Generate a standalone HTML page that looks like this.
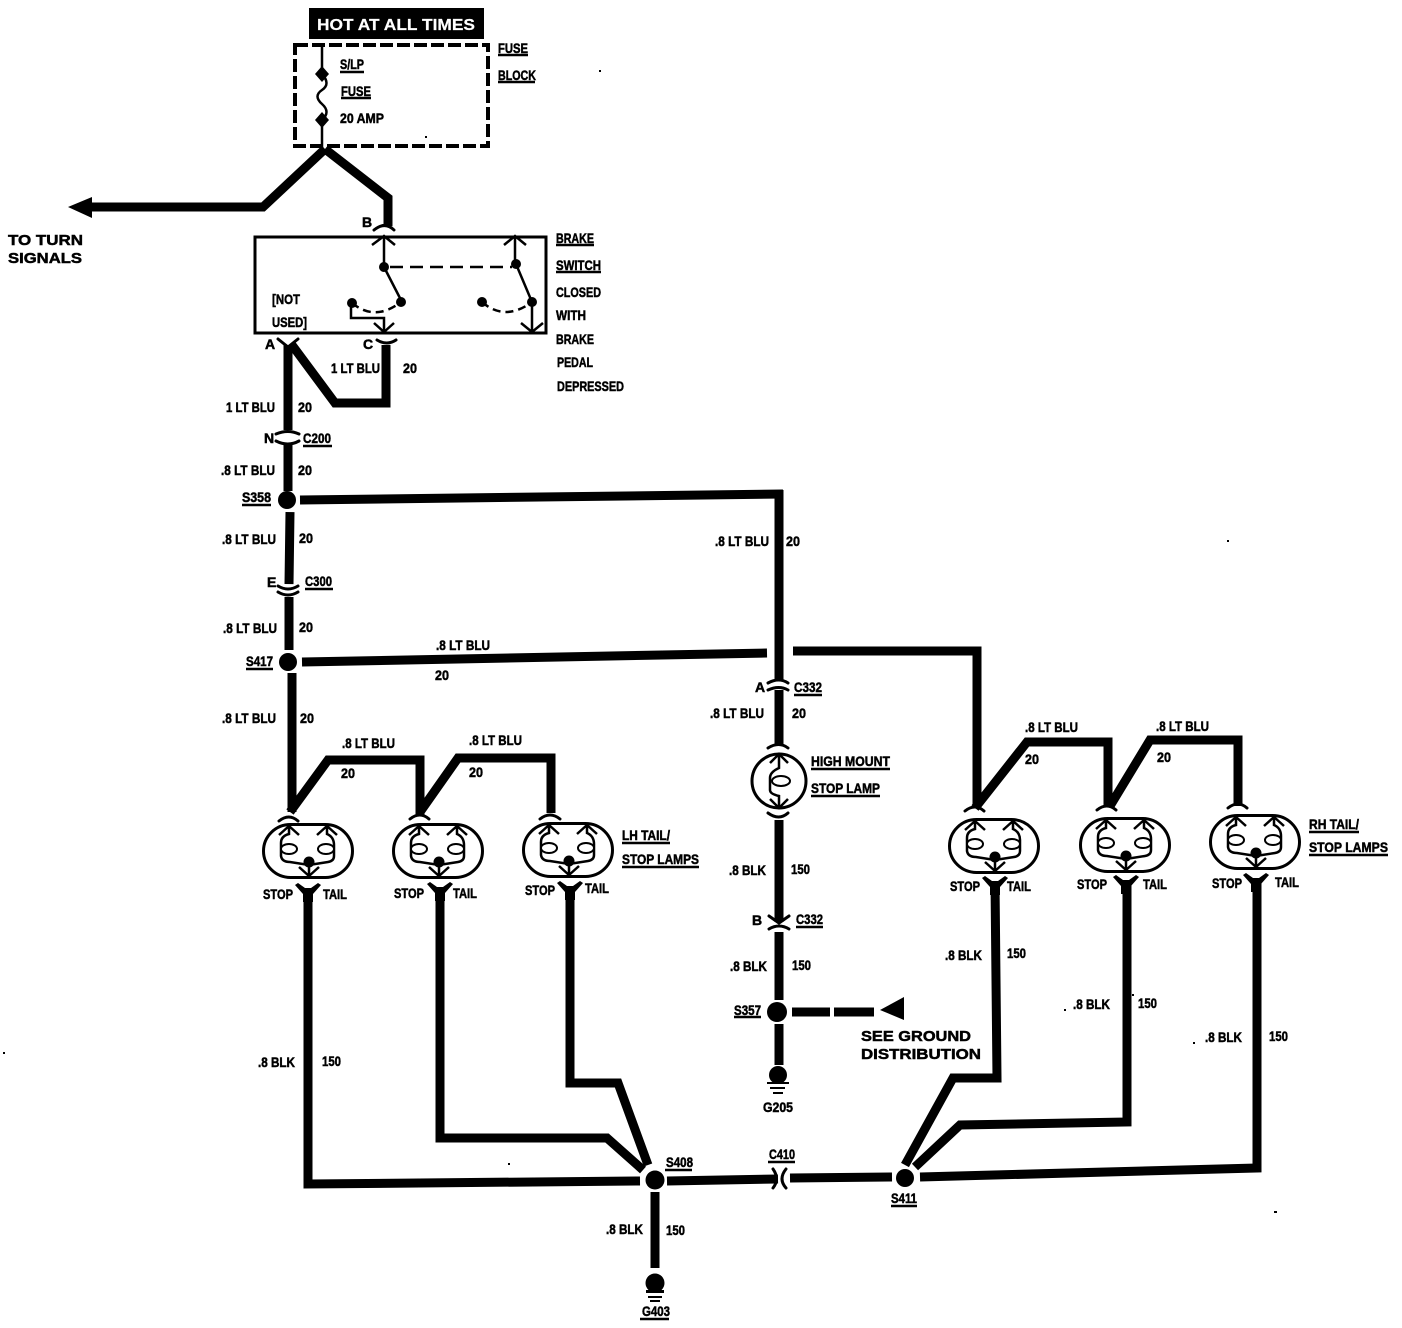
<!DOCTYPE html>
<html><head><meta charset="utf-8"><title>Stop lamp wiring diagram</title>
<style>
html,body{margin:0;padding:0;background:#fff}
svg{display:block}
text{font-family:"Liberation Sans",sans-serif;font-weight:bold;font-size:14px;fill:#000;stroke:#000;stroke-width:.5;transform:translateY(-1px)}
.w{fill:none;stroke:#000;stroke-width:9;stroke-linejoin:miter}
.t{fill:none;stroke:#000;stroke-width:2.5}
.a{fill:none;stroke:#000;stroke-width:3;stroke-linecap:round}
</style></head><body>
<svg width="1402" height="1328" viewBox="0 0 1402 1328" xmlns="http://www.w3.org/2000/svg">
<defs>
<g id="lamp">
<rect x="1.5" y="1.5" width="89" height="53" rx="27" fill="#fff" stroke="#000" stroke-width="3"/>
<path class="t" d="M27 3V11Q19 13 19 20V33Q20 39 28 39L47 42L66 39Q72 38 72 33V22Q72 14 65 11V3M17 12L27 3L37 12M55 12L65 3L75 12M47 42V53M37 44L47 53L57 44" stroke-width="2"/>
<ellipse cx="27" cy="26" rx="8" ry="5" fill="#fff" stroke="#000" stroke-width="2"/>
<ellipse cx="64" cy="26" rx="8" ry="5" fill="#fff" stroke="#000" stroke-width="2"/>
<circle cx="47" cy="39" r="5.5"/>
</g>
<path id="yc" d="M-13 -5L-10 -7L-3 -2H3L10 -7L13 -5L5 4V12H-5V4Z"/>
</defs>

<!-- header -->
<rect x="309" y="8" width="175" height="31"/>
<text x="317" y="31" style="fill:#fff;stroke:#fff;stroke-width:.2;font-size:16px" textLength="158" lengthAdjust="spacingAndGlyphs">HOT AT ALL TIMES</text>
<rect x="295" y="45" width="193" height="101" fill="none" stroke="#000" stroke-width="4" stroke-dasharray="13 4"/>
<path class="t" d="M322 44V72M322 120V148M322 74Q331 84 322 90T322 104T322 120"/>
<path d="M322 66L329 74L322 82L315 74ZM322 112L329 120L322 128L315 120Z"/>

<!-- top wires -->
<path class="w" d="M325 149L263 207H90"/>
<path class="w" stroke-width="10" d="M325 149L388 198V226"/>
<path d="M68 207L92 197V218Z"/>
<path class="a" d="M374 230Q385 221 394 230M278 339L288 347L298 339M377 340Q387 346 396 340"/>

<!-- switch -->
<rect x="255" y="237" width="291" height="96" fill="none" stroke="#000" stroke-width="3"/>
<path class="t" d="M384 237V267M372 245L384 236L395 245M515 237V264M504 245L515 236L526 245M384 267L402 302M516 264L532 302V332M521 323L532 332L543 323M351 305V318H384V332M374 323L384 332L394 323"/>
<path class="t" stroke-dasharray="13 7" d="M390 267H512"/>
<path class="t" stroke-dasharray="8 5" d="M352 303Q375 322 401 302M482 302Q505 322 532 302"/>
<circle cx="384" cy="267" r="5"/><circle cx="516" cy="264" r="5"/><circle cx="401" cy="302" r="5"/><circle cx="352" cy="303" r="5"/><circle cx="482" cy="302" r="5"/><circle cx="532" cy="302" r="5"/>

<!-- left main wires -->
<path class="w" d="M288 345V430M292 345L335 403H386V345"/>
<path class="a" d="M276 434Q288 429 299 434M276 441Q288 447 299 441"/>
<path class="w" d="M288 444V491M290 512L289 584M289 597V650"/>
<circle cx="287" cy="500" r="9"/>
<path class="a" d="M278 586Q288 592 298 586M278 592Q288 598 298 592"/>
<circle cx="288" cy="662" r="9"/>
<path class="w" d="M300 500L783 494"/>
<path class="w" d="M779 490V680" stroke-width="8"/>
<path class="w" d="M302 662L767 653M793 651H977V808"/>
<path class="w" d="M292 673V812" stroke-width="8"/>

<!-- LH top wires -->
<path class="w" d="M290 812L328 760H420V815M420 812L458 758H551V813"/>
<path class="a" d="M279 821Q289 813 298 821M410 819Q420 811 429 819M540 819Q550 811 560 819"/>
<use href="#lamp" x="262" y="823"/><use href="#lamp" x="392" y="823"/><use href="#lamp" x="522" y="822"/>

<!-- RH top wires -->
<path class="w" d="M975 808L1027 742H1108V806M1110 806L1150 740H1238V806"/>
<path class="a" d="M965 811Q975 803 984 811M1097 810Q1107 802 1116 810M1228 808Q1238 800 1247 808"/>
<use href="#lamp" x="948" y="818"/><use href="#lamp" x="1079" y="817"/><use href="#lamp" x="1209" y="814"/>

<!-- Y connectors -->
<use href="#yc" x="308" y="890"/><use href="#yc" x="440" y="889"/><use href="#yc" x="570" y="888"/>
<use href="#yc" x="995" y="883"/><use href="#yc" x="1126" y="882"/><use href="#yc" x="1256" y="880"/>

<!-- ground wires -->
<path class="w" d="M308 888V1184L640 1181"/>
<path class="w" d="M440 888V1138H607L643 1170"/>
<path class="w" d="M570 888V1083H618L648 1165"/>
<circle cx="655" cy="1180" r="9.5"/>
<path class="w" d="M667 1181L778 1179M790 1178L892 1177"/>
<path class="a" d="M773 1169Q780 1179 773 1188M786 1169Q778 1179 786 1188" stroke-width="2.5"/>
<circle cx="905" cy="1178" r="9"/>
<path class="w" d="M995 882L997 1078H953L905 1165"/>
<path class="w" d="M1127 882V1122L960 1125L915 1167"/>
<path class="w" d="M1257 880V1168L920 1177"/>
<path class="w" d="M655 1192V1268"/>
<circle cx="655" cy="1283" r="9.5"/>
<path d="M647 1291H663V1293H647ZM646 1290H664V1293H646ZM648 1296H662V1298H648ZM650 1300H660V1302H650Z"/>

<!-- centre -->
<path class="a" d="M768 683Q779 677 788 683M768 690Q779 685 788 690"/>
<path class="w" d="M779 690V744M779 820V922M779 932V1000M779 1024V1065"/>
<path class="a" d="M768 748Q779 741 788 748M768 813Q779 821 788 813M769 916L779 923L789 916M769 929Q779 923 789 929"/>
<circle cx="779" cy="781" r="27" fill="#fff" stroke="#000" stroke-width="3"/>
<path class="t" d="M779 755V768Q770 772 770 778V790Q770 794 779 796V807M770 763L779 754L788 763M770 799L779 808L788 799" stroke-width="2"/>
<ellipse cx="781" cy="781" rx="9" ry="5" fill="#fff" stroke="#000" stroke-width="2"/>
<circle cx="777" cy="1012" r="10"/>
<path class="w" d="M792 1012H830M834 1012H874"/>
<path d="M880 1010L904 997V1020Z"/>
<circle cx="778" cy="1075" r="9"/>
<path d="M767 1082H789V1084H767ZM770 1087H785V1089H770ZM773 1092H783V1094H773Z"/>

<!-- underlines -->
<path class="t" stroke-width="1.5" d="M340 72H364M341 98H371M498 55H528M498 82H535M556 245H594M556 272H601M303 446H332M242 505H271M305 589H333M246 669H273M794 695H822M811 769H890M811 796H880M796 927H823M734 1017H761M622 843H670M622 867H699M1309 832H1359M1309 855H1388M665 1170H692M768 1162H795M891 1206H917M640 1319H669"/>

<!-- labels -->
<text x="340" y="70" textLength="24" lengthAdjust="spacingAndGlyphs">S/LP</text>
<text x="341" y="97" textLength="30" lengthAdjust="spacingAndGlyphs">FUSE</text>
<text x="340" y="124" textLength="44" lengthAdjust="spacingAndGlyphs">20 AMP</text>
<text x="498" y="54" textLength="30" lengthAdjust="spacingAndGlyphs">FUSE</text>
<text x="498" y="81" textLength="38" lengthAdjust="spacingAndGlyphs">BLOCK</text>
<text x="8" y="246" style="font-size:15px" textLength="75" lengthAdjust="spacingAndGlyphs">TO TURN</text>
<text x="8" y="264" style="font-size:15px" textLength="74" lengthAdjust="spacingAndGlyphs">SIGNALS</text>
<text x="362" y="228">B</text>
<text x="556" y="244" textLength="38" lengthAdjust="spacingAndGlyphs">BRAKE</text>
<text x="556" y="271" textLength="45" lengthAdjust="spacingAndGlyphs">SWITCH</text>
<text x="556" y="298" textLength="45" lengthAdjust="spacingAndGlyphs">CLOSED</text>
<text x="556" y="321" textLength="30" lengthAdjust="spacingAndGlyphs">WITH</text>
<text x="556" y="345" textLength="38" lengthAdjust="spacingAndGlyphs">BRAKE</text>
<text x="557" y="368" textLength="36" lengthAdjust="spacingAndGlyphs">PEDAL</text>
<text x="557" y="392" textLength="67" lengthAdjust="spacingAndGlyphs">DEPRESSED</text>
<text x="272" y="305" textLength="28" lengthAdjust="spacingAndGlyphs">[NOT</text>
<text x="272" y="328" textLength="35" lengthAdjust="spacingAndGlyphs">USED]</text>
<text x="265" y="350">A</text><text x="363" y="350">C</text>
<text x="331" y="374" textLength="49" lengthAdjust="spacingAndGlyphs">1 LT BLU</text><text x="403" y="374" textLength="14" lengthAdjust="spacingAndGlyphs">20</text>
<text x="226" y="413" textLength="49" lengthAdjust="spacingAndGlyphs">1 LT BLU</text><text x="298" y="413" textLength="14" lengthAdjust="spacingAndGlyphs">20</text>
<text x="264" y="444">N</text><text x="303" y="444" textLength="28" lengthAdjust="spacingAndGlyphs">C200</text>
<text x="221" y="476" textLength="54" lengthAdjust="spacingAndGlyphs">.8 LT BLU</text><text x="298" y="476" textLength="14" lengthAdjust="spacingAndGlyphs">20</text>
<text x="242" y="503" textLength="29" lengthAdjust="spacingAndGlyphs">S358</text>
<text x="222" y="545" textLength="54" lengthAdjust="spacingAndGlyphs">.8 LT BLU</text><text x="299" y="544" textLength="14" lengthAdjust="spacingAndGlyphs">20</text>
<text x="267" y="588">E</text><text x="305" y="587" textLength="27" lengthAdjust="spacingAndGlyphs">C300</text>
<text x="223" y="634" textLength="54" lengthAdjust="spacingAndGlyphs">.8 LT BLU</text><text x="299" y="633" textLength="14" lengthAdjust="spacingAndGlyphs">20</text>
<text x="246" y="667" textLength="27" lengthAdjust="spacingAndGlyphs">S417</text>
<text x="222" y="724" textLength="54" lengthAdjust="spacingAndGlyphs">.8 LT BLU</text><text x="300" y="724" textLength="14" lengthAdjust="spacingAndGlyphs">20</text>
<text x="436" y="651" textLength="54" lengthAdjust="spacingAndGlyphs">.8 LT BLU</text><text x="435" y="681" textLength="14" lengthAdjust="spacingAndGlyphs">20</text>
<text x="715" y="547" textLength="54" lengthAdjust="spacingAndGlyphs">.8 LT BLU</text><text x="786" y="547" textLength="14" lengthAdjust="spacingAndGlyphs">20</text>
<text x="755" y="693">A</text><text x="794" y="693" textLength="28" lengthAdjust="spacingAndGlyphs">C332</text>
<text x="710" y="719" textLength="54" lengthAdjust="spacingAndGlyphs">.8 LT BLU</text><text x="792" y="719" textLength="14" lengthAdjust="spacingAndGlyphs">20</text>
<text x="342" y="749" textLength="53" lengthAdjust="spacingAndGlyphs">.8 LT BLU</text><text x="341" y="779" textLength="14" lengthAdjust="spacingAndGlyphs">20</text>
<text x="469" y="746" textLength="53" lengthAdjust="spacingAndGlyphs">.8 LT BLU</text><text x="469" y="778" textLength="14" lengthAdjust="spacingAndGlyphs">20</text>
<text x="1025" y="733" textLength="53" lengthAdjust="spacingAndGlyphs">.8 LT BLU</text><text x="1025" y="765" textLength="14" lengthAdjust="spacingAndGlyphs">20</text>
<text x="1156" y="732" textLength="53" lengthAdjust="spacingAndGlyphs">.8 LT BLU</text><text x="1157" y="763" textLength="14" lengthAdjust="spacingAndGlyphs">20</text>
<text x="811" y="767" textLength="79" lengthAdjust="spacingAndGlyphs">HIGH MOUNT</text>
<text x="811" y="794" textLength="69" lengthAdjust="spacingAndGlyphs">STOP LAMP</text>
<text x="729" y="876" textLength="37" lengthAdjust="spacingAndGlyphs">.8 BLK</text><text x="791" y="875" textLength="19" lengthAdjust="spacingAndGlyphs">150</text>
<text x="752" y="926">B</text><text x="796" y="925" textLength="27" lengthAdjust="spacingAndGlyphs">C332</text>
<text x="730" y="972" textLength="37" lengthAdjust="spacingAndGlyphs">.8 BLK</text><text x="792" y="971" textLength="19" lengthAdjust="spacingAndGlyphs">150</text>
<text x="734" y="1016" textLength="27" lengthAdjust="spacingAndGlyphs">S357</text>
<text x="861" y="1042" style="font-size:15px" textLength="110" lengthAdjust="spacingAndGlyphs">SEE GROUND</text>
<text x="861" y="1060" style="font-size:15px" textLength="120" lengthAdjust="spacingAndGlyphs">DISTRIBUTION</text>
<text x="763" y="1113" textLength="30" lengthAdjust="spacingAndGlyphs">G205</text>
<text x="263" y="900" textLength="30" lengthAdjust="spacingAndGlyphs">STOP</text><text x="323" y="900" textLength="24" lengthAdjust="spacingAndGlyphs">TAIL</text>
<text x="394" y="899" textLength="30" lengthAdjust="spacingAndGlyphs">STOP</text><text x="453" y="899" textLength="24" lengthAdjust="spacingAndGlyphs">TAIL</text>
<text x="525" y="896" textLength="30" lengthAdjust="spacingAndGlyphs">STOP</text><text x="585" y="894" textLength="24" lengthAdjust="spacingAndGlyphs">TAIL</text>
<text x="622" y="841" textLength="48" lengthAdjust="spacingAndGlyphs">LH TAIL/</text>
<text x="622" y="865" textLength="77" lengthAdjust="spacingAndGlyphs">STOP LAMPS</text>
<text x="950" y="892" textLength="30" lengthAdjust="spacingAndGlyphs">STOP</text><text x="1007" y="892" textLength="24" lengthAdjust="spacingAndGlyphs">TAIL</text>
<text x="1077" y="890" textLength="30" lengthAdjust="spacingAndGlyphs">STOP</text><text x="1143" y="890" textLength="24" lengthAdjust="spacingAndGlyphs">TAIL</text>
<text x="1212" y="889" textLength="30" lengthAdjust="spacingAndGlyphs">STOP</text><text x="1275" y="888" textLength="24" lengthAdjust="spacingAndGlyphs">TAIL</text>
<text x="1309" y="830" textLength="50" lengthAdjust="spacingAndGlyphs">RH TAIL/</text>
<text x="1309" y="853" textLength="79" lengthAdjust="spacingAndGlyphs">STOP LAMPS</text>
<text x="945" y="961" textLength="37" lengthAdjust="spacingAndGlyphs">.8 BLK</text><text x="1007" y="959" textLength="19" lengthAdjust="spacingAndGlyphs">150</text>
<text x="1073" y="1010" textLength="37" lengthAdjust="spacingAndGlyphs">.8 BLK</text><text x="1138" y="1009" textLength="19" lengthAdjust="spacingAndGlyphs">150</text>
<text x="1205" y="1043" textLength="37" lengthAdjust="spacingAndGlyphs">.8 BLK</text><text x="1269" y="1042" textLength="19" lengthAdjust="spacingAndGlyphs">150</text>
<text x="258" y="1068" textLength="37" lengthAdjust="spacingAndGlyphs">.8 BLK</text><text x="322" y="1067" textLength="19" lengthAdjust="spacingAndGlyphs">150</text>
<text x="666" y="1168" textLength="27" lengthAdjust="spacingAndGlyphs">S408</text>
<text x="769" y="1160" textLength="26" lengthAdjust="spacingAndGlyphs">C410</text>
<text x="891" y="1204" textLength="26" lengthAdjust="spacingAndGlyphs">S411</text>
<text x="606" y="1235" textLength="37" lengthAdjust="spacingAndGlyphs">.8 BLK</text><text x="666" y="1236" textLength="19" lengthAdjust="spacingAndGlyphs">150</text>
<text x="642" y="1317" textLength="28" lengthAdjust="spacingAndGlyphs">G403</text>

<!-- specks -->
<path d="M1064 1009h2v2h-2zM1193 1042h2v2h-2zM1132 994h2v2h-2zM508 1163h2v2h-2zM425 136h2v2h-2zM599 70h2v2h-2zM1274 1211h3v2h-3zM3 1052h2v2h-2zM1227 540h2v2h-2z"/>
</svg>
</body></html>
